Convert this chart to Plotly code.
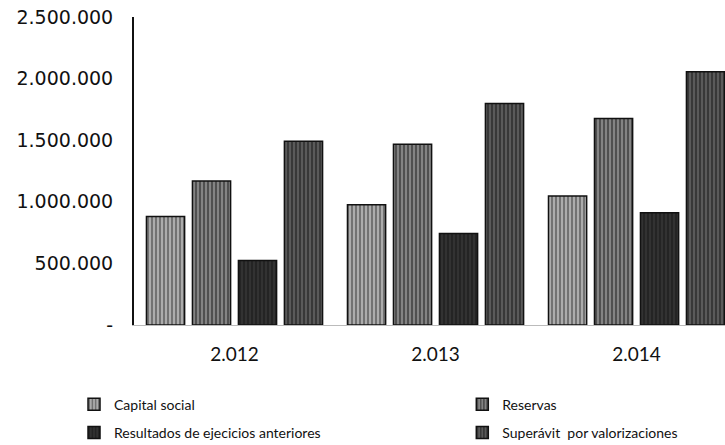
import plotly.graph_objects as go

years = ["2.012", "2.013", "2.014"]
capital_social = [880000, 976000, 1048000]
reservas = [1169000, 1468000, 1677000]
resultados = [524000, 742000, 911000]
superavit = [1492000, 1798000, 2056000]

y_tickvals = [0, 500000, 1000000, 1500000, 2000000, 2500000]
y_ticktext = ["-", "500.000", "1.000.000", "1.500.000", "2.000.000", "2.500.000"]

series = [
    ("Capital social", capital_social, "#acacac", 0.38, "legend"),
    ("Reservas", reservas, "#848484", 0.45, "legend2"),
    ("Resultados de ejecicios anteriores", resultados, "#363636", 0.6, "legend"),
    ("Superávit  por valorizaciones", superavit, "#5e5e5e", 0.55, "legend2"),
]

fig = go.Figure()
for name, vals, col, sol, lg in series:
    fig.add_trace(go.Bar(
        x=years, y=vals, name=name, legend=lg, legendgroup=name,
        marker=dict(
            color=col,
            line=dict(color="#111111", width=1.5),
            pattern=dict(shape="|", fgcolor="#111111", bgcolor=col, size=4, solidity=sol),
        ),
    ))

fig.update_layout(
    width=725, height=445,
    margin=dict(l=134, r=0, t=17, b=120, autoexpand=False),
    paper_bgcolor="white", plot_bgcolor="white",
    barmode="group", bargap=0.085, bargroupgap=0.17,
    font=dict(family="DejaVu Sans", color="#111111"),
    legend=dict(x=-0.1015, y=-0.207, xanchor="left", yanchor="top", orientation="v",
                font=dict(family="Lato", size=14, color="#111111"), tracegroupgap=7,
                bgcolor="rgba(0,0,0,0)"),
    legend2=dict(x=0.5555, y=-0.207, xanchor="left", yanchor="top", orientation="v",
                 font=dict(family="Lato", size=14, color="#111111"), tracegroupgap=7,
                 bgcolor="rgba(0,0,0,0)"),
)
fig.update_xaxes(
    range=[-0.5, 2.44], showline=True, linecolor="#bbbbbb", linewidth=1,
    ticks="", tickfont=dict(family="Lato", size=19, color="#111111"),
    ticklabelstandoff=12, showgrid=False,
)
fig.update_yaxes(
    range=[0, 2500000], tickvals=y_tickvals, ticktext=y_ticktext,
    showline=True, linecolor="#111111", linewidth=2, showgrid=False, zeroline=False,
    ticks="", tickfont=dict(family="DejaVu Sans", size=19, color="#111111"),
    ticklabelstandoff=15,
)

fig.write_html("out.html", config={"displayModeBar": False},
               post_script="document.body.style.margin='0';")
